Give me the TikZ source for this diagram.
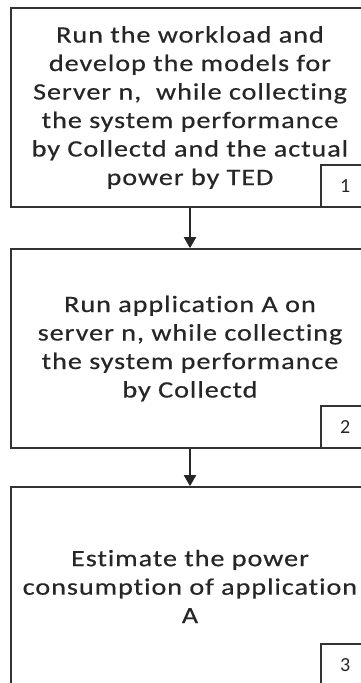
\documentclass[tikz,border=0pt]{standalone}
\usepackage{fontspec}
\setmainfont{Carlito}
\newfontfamily\boxfont[FakeStretch=1.2,LetterSpace=4,FakeBold=0.5,Ligatures=NoCommon]{Carlito}
\usetikzlibrary{arrows.meta}

\tikzset{
  stepbox/.style={draw=black!80, line width=1.6pt, minimum width=358pt,
    minimum height=199pt, align=center, text=black!85,
    font=\boxfont\fontsize{23.5}{28.5}\selectfont},
  numbox/.style={draw=black!80, line width=1.4pt, minimum width=48pt,
    minimum height=42pt, text=black!85, font=\fontsize{20}{22}\selectfont},
  flow/.style={draw=black!85, line width=2pt, -{Triangle[length=11pt,width=12pt]}}
}

\begin{document}
\begin{tikzpicture}[x=1pt,y=1pt]
      \clip (0,0) rectangle (361,683);

      \draw (190,575.5) node[stepbox] (step1) {Run the workload and\\develop the models for\\Server n,\ \ while collecting\\the system performance\\by Collectd and the actual\\power by TED};
      \draw (190,334.5) node[stepbox] (step2) {Run application A on\\server n, while collecting\\the system performance\\by Collectd};
      \draw (190,96.5) node[stepbox] (step3) {Estimate the power\\consumption of application\\A};

      % step numbers in the lower right corners
      \node[numbox, anchor=south east] (num1) at (step1.south east) {1};
      \node[numbox, anchor=south east] (num2) at (step2.south east) {2};
      \node[numbox, anchor=south east] (num3) at (step3.south east) {3};

      \draw[flow] (step1) -- (step2);
      \draw[flow] (step2) -- (step3);
    \end{tikzpicture}
\end{document}
